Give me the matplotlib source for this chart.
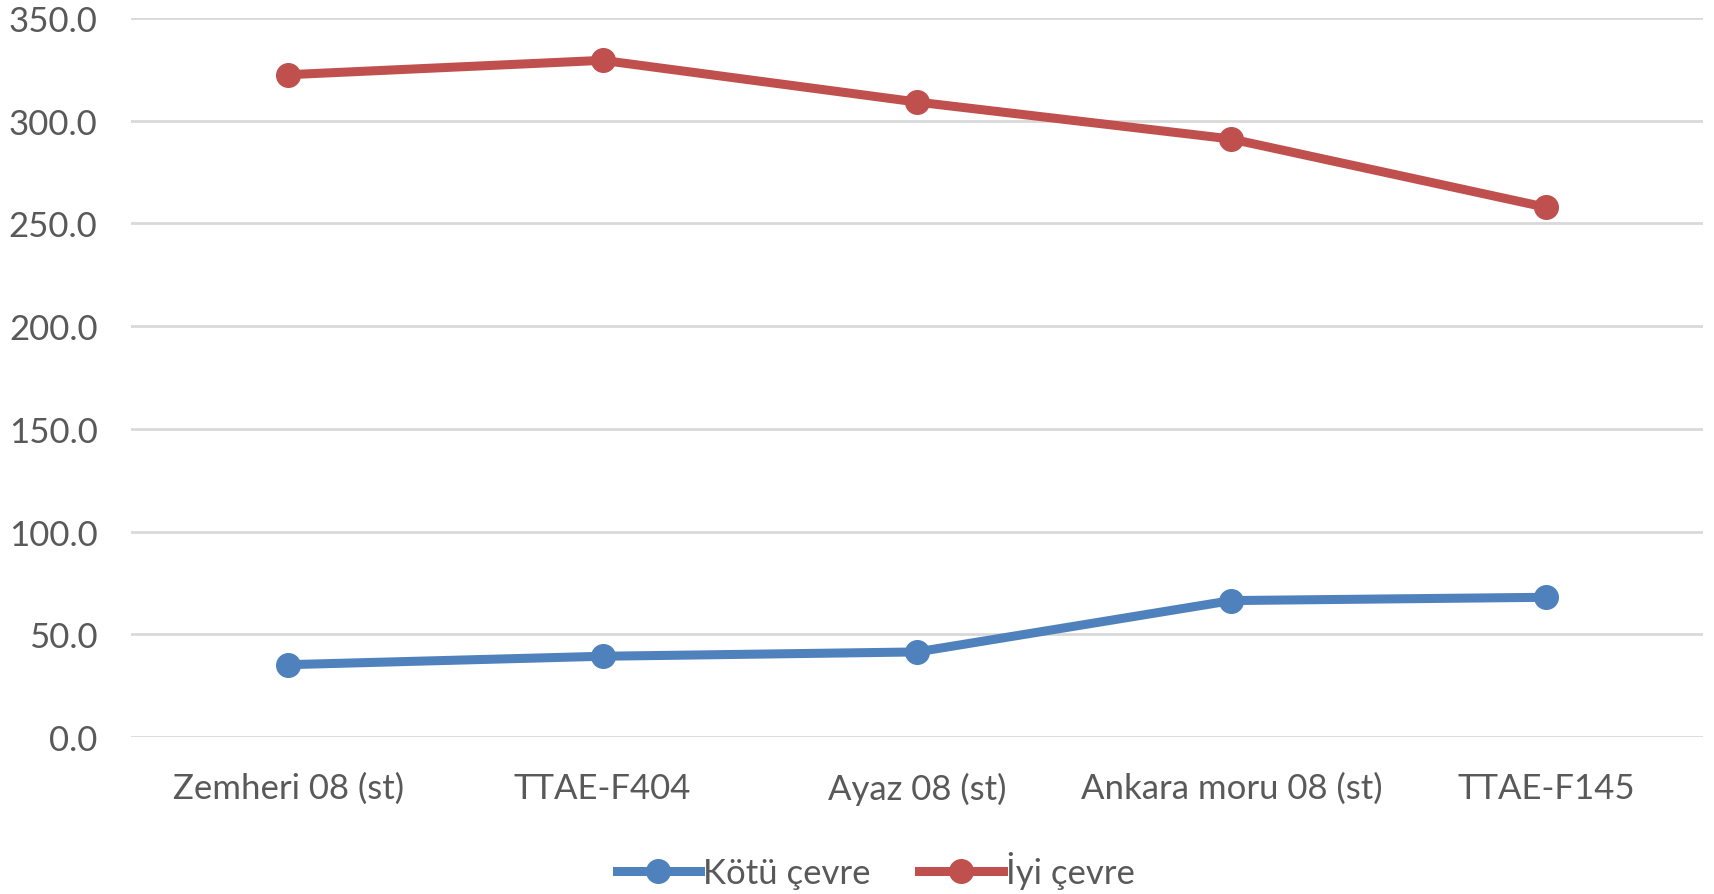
import matplotlib
matplotlib.use("Agg")
import matplotlib.pyplot as plt

categories = ["Zemheri 08 (st)", "TTAE-F404", "Ayaz 08 (st)", "Ankara moru 08 (st)", "TTAE-F145"]
kotu = [35.2, 39.3, 41.4, 66.4, 68.0]
iyi = [322.3, 329.3, 309.0, 291.0, 257.8]
series_names = ["Kötü çevre", "İyi çevre"]
yticks = [0, 50, 100, 150, 200, 250, 300, 350]

plt.rcParams['font.family'] = ['Lato', 'DejaVu Sans']

fig = plt.figure(figsize=(17.14, 8.95), dpi=100)
ax = fig.add_axes([0.0764, 0.1754, 0.9172, 0.8036])

x = list(range(len(categories)))
ax.plot(x, kotu, color='#4f81bd', lw=6.5, marker='o', ms=17, label=series_names[0], zorder=3)
ax.plot(x, iyi, color='#c0504d', lw=6.5, marker='o', ms=17, label=series_names[1], zorder=3)

ax.set_xlim(-0.5, len(categories) - 0.5)
ax.set_ylim(0, 350)
ax.set_yticks(yticks)
ax.set_yticklabels([f"{v:.1f}" for v in yticks])
ax.set_xticks(x)
ax.set_xticklabels(categories)
ax.grid(axis='y', color='#d9d9d9', lw=2)
ax.set_axisbelow(True)
for s in ax.spines.values():
    s.set_visible(False)
ax.tick_params(axis='both', length=0, labelsize=25, colors='#595959')
ax.tick_params(axis='y', pad=24)
ax.tick_params(axis='x', pad=25)
for line in ax.lines:
    line.set_clip_on(False)

leg = fig.legend(loc='center', bbox_to_anchor=(0.511, 0.027), ncol=2, frameon=False,
                 fontsize=25, handlelength=2.4, handletextpad=0.1, columnspacing=1.4)
for t in leg.get_texts():
    t.set_color('#595959')

fig.savefig("out.png", dpi=100)
